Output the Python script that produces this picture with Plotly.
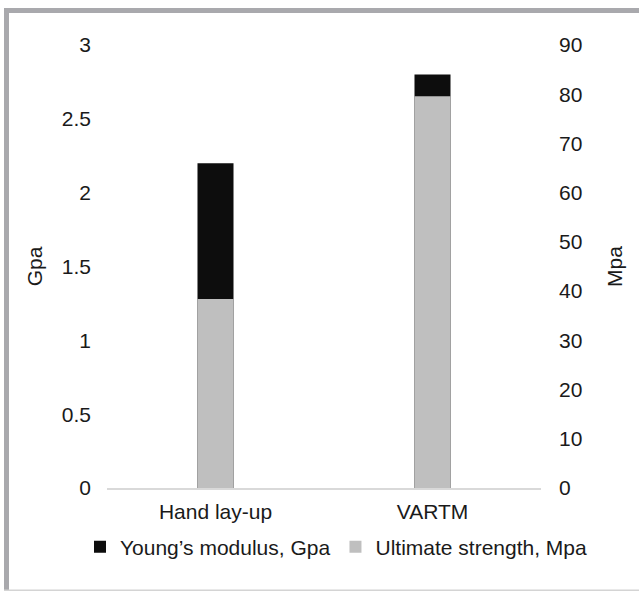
import plotly.graph_objects as go

categories = ["Hand lay-up", "VARTM"]
youngs_modulus_gpa = [2.2, 2.8]
ultimate_strength_mpa = [38.4, 79.6]
left_ticks = [0, 0.5, 1, 1.5, 2, 2.5, 3]
left_tick_text = ["0", "0.5", "1", "1.5", "2", "2.5", "3"]
right_ticks = [0, 10, 20, 30, 40, 50, 60, 70, 80, 90]

W, H = 639, 592
L, R, T, B = 107, 98, 45, 104
PW, PH = W - L - R, H - T - B

def px(x):
    return (x - L) / PW

def py(y):
    return (H - B - y) / PH

FONT = "Liberation Sans, Arial, sans-serif"
TXT = "#1a1a1a"

fig = go.Figure()
fig.add_trace(go.Bar(
    x=categories, y=youngs_modulus_gpa, name="Young\u2019s modulus, Gpa",
    marker=dict(color="#0d0d0d", line=dict(width=0)), width=0.166, yaxis="y",
))
fig.add_trace(go.Bar(
    x=categories, y=ultimate_strength_mpa, name="Ultimate strength, Mpa",
    marker=dict(color="#bfbfbf", line=dict(width=0)), width=0.166, yaxis="y2",
))

fig.update_layout(
    width=W, height=H,
    margin=dict(l=L, r=R, t=T, b=B, autoexpand=False),
    paper_bgcolor="white", plot_bgcolor="white",
    barmode="overlay",
    font=dict(family=FONT, size=21, color=TXT),
    showlegend=True,
    legend=dict(orientation="h", x=px(80), xanchor="left", y=py(547), yanchor="middle",
                font=dict(size=21, color=TXT),
                bgcolor="rgba(0,0,0,0)", traceorder="normal", itemwidth=30),
    xaxis=dict(showline=True, linecolor="#d9d9d9", linewidth=2, showgrid=False,
               ticks="", tickfont=dict(size=21), zeroline=False, ticklabelstandoff=4),
    yaxis=dict(range=[0, 3], tickvals=left_ticks, ticktext=left_tick_text,
               showgrid=False, zeroline=False, showline=False, ticks="",
               ticklabelstandoff=15,
               title=dict(text="Gpa", standoff=13, font=dict(size=21))),
    yaxis2=dict(range=[0, 90], tickvals=right_ticks, overlaying="y", side="right",
                showgrid=False, zeroline=False, showline=False, ticks="",
                ticklabelstandoff=17,
                title=dict(text="Mpa", standoff=25, font=dict(size=21))),
    shapes=[
        dict(type="rect", xref="paper", yref="paper", x0=px(4), x1=px(645), y0=py(13), y1=py(8),
             fillcolor="#a9a9ad", line=dict(width=0), layer="above"),
        dict(type="rect", xref="paper", yref="paper", x0=px(4), x1=px(9), y0=py(590), y1=py(8),
             fillcolor="#a9a9ad", line=dict(width=0), layer="above"),
        dict(type="rect", xref="paper", yref="paper", x0=px(4), x1=px(645), y0=py(591), y1=py(589.5),
             fillcolor="#d4d4d4", line=dict(width=0), layer="above"),
    ],
)

fig.write_html("out.html")
